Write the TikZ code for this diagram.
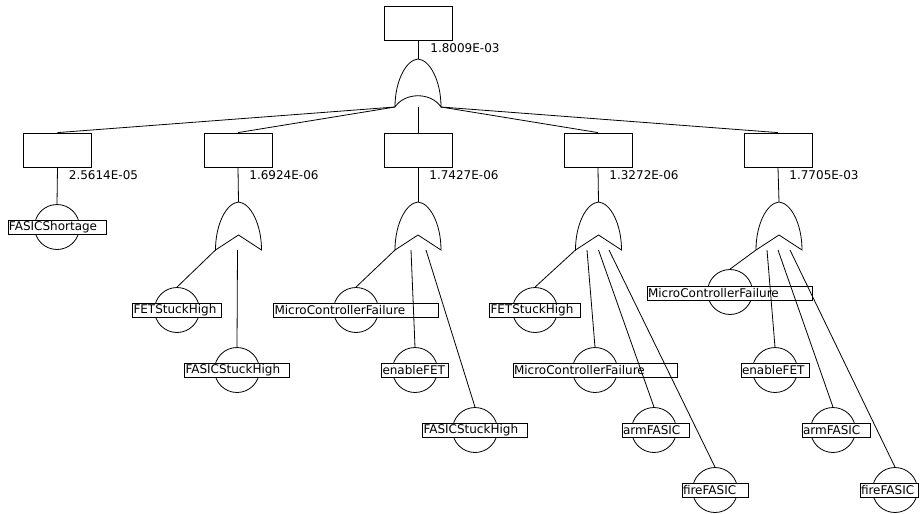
\documentclass[tikz,border=0pt]{standalone}
\usepackage{fontspec}
\setmainfont{DejaVu Sans}

\begin{document}
\begin{tikzpicture}[
x=1pt, y=-1pt, line width=0.8pt,
eventbox/.style={draw, minimum width=68pt, minimum height=34pt, inner sep=0pt},
prob/.style={anchor=north west, inner sep=0pt, font=\fontsize{12}{14}\selectfont},
basic/.style={circle, draw, minimum size=45pt, inner sep=0pt},
tag/.style={draw, fill=white, inner sep=1pt, minimum height=14pt, align=left, text width=#1, font=\fontsize{12}{14}\selectfont},
orgate/.pic={
  \draw (-23,48) .. controls (-23,22) and (-12,1) .. (0,0) .. controls (12,1) and (23,22) .. (23,48)
        .. controls (13,33) and (-13,33) .. (-23,48);
  \coordinate (-top) at (0,0);
  \coordinate (-sw) at (-23,48);
  \coordinate (-s) at (0,48);
  \coordinate (-se) at (23,48);
},
chevgate/.pic={
  \draw (-23,48) .. controls (-23,22) and (-12,1) .. (0,0) .. controls (12,1) and (23,22) .. (23,48)
        -- (0,33) -- cycle;
  \coordinate (-top) at (0,0);
  \coordinate (-sw) at (-23,48);
  \coordinate (-s) at (0,48);
  \coordinate (-se) at (23,48);
}
]
    \useasboundingbox (0,0) rectangle (921,514);

    % top event
    \node [eventbox] (t0) at (418,23) {};
    \node [prob] (p0) at ([xshift=12pt, yshift=-3pt]t0.south) {1.8009E-03};
    \pic (g0) at (418,59) {orgate};

    % intermediate events
    \node [eventbox] (t1) at (57.5,150) {};
    \node [eventbox] (t2) at (238,150) {};
    \node [eventbox] (t3) at (418,150) {};
    \node [eventbox] (t4) at (598,150) {};
    \node [eventbox] (t5) at (778,150) {};

    \node [prob] (p1) at ([xshift=11pt, yshift=-3pt]t1.south) {2.5614E-05};
    \node [prob] (p2) at ([xshift=11pt, yshift=-3pt]t2.south) {1.6924E-06};
    \node [prob] (p3) at ([xshift=11pt, yshift=-3pt]t3.south) {1.7427E-06};
    \node [prob] (p4) at ([xshift=11pt, yshift=-3pt]t4.south) {1.3272E-06};
    \node [prob] (p5) at ([xshift=11pt, yshift=-3pt]t5.south) {1.7705E-03};

    \pic (g2) at (238.5,202) {chevgate};
    \pic (g3) at (418,202) {chevgate};
    \pic (g4) at (598.5,202) {chevgate};
    \pic (g5) at (779,202) {chevgate};

    % basic events
    \node [basic] (e1) at (57,227) {};
    \node [tag=96pt] (l1) at (e1) {FASICShortage};

    \node [basic] (e21) at (177,310) {};
    \node [tag=87pt] (l21) at (e21) {FETStuckHigh};
    \node [basic] (e22) at (237,370) {};
    \node [tag=103pt] (l22) at (e22) {FASICStuckHigh};

    \node [basic] (e31) at (356,310) {};
    \node [tag=163pt] (l31) at (e31) {MicroControllerFailure};
    \node [basic] (e32) at (415,370) {};
    \node [tag=65pt] (l32) at (e32) {enableFET};
    \node [basic] (e33) at (475,430) {};
    \node [tag=103pt] (l33) at (e33) {FASICStuckHigh};

    \node [basic] (e41) at (535,310) {};
    \node [tag=89pt] (l41) at (e41) {FETStuckHigh};
    \node [basic] (e42) at (595,370) {};
    \node [tag=162pt] (l42) at (e42) {MicroControllerFailure};
    \node [basic] (e43) at (654,430) {};
    \node [tag=65pt] (l43) at (655.5,430) {armFASIC};
    \node [basic] (e44) at (715,490) {};
    \node [tag=64pt] (l44) at (e44) {fireFASIC};

    \node [basic] (e51) at (730,292) {};
    \node [tag=163pt] (l51) at (729.5,293) {MicroControllerFailure};
    \node [basic] (e52) at (775,370) {};
    \node [tag=66pt] (l52) at (e52) {enableFET};
    \node [basic] (e53) at (833,430) {};
    \node [tag=66pt] (l53) at (836,430) {armFASIC};
    \node [basic] (e54) at (895,490) {};
    \node [tag=56pt] (l54) at (889,490) {fireFASIC};

    % connectors
    \draw (t0.south) edge (g0-top);
    \draw (g0-sw) edge (t1.north);
    \draw (g0-sw) edge (t2.north);
    \draw (g0-s) edge (t3.north);
    \draw (g0-se) edge (t4.north);
    \draw (g0-se) edge (t5.north);

    \draw (t1.south) edge (e1.north);
    \draw (t2.south) edge (g2-top);
    \draw (t3.south) edge (g3-top);
    \draw (t4.south) edge (g4-top);
    \draw (t5.south) edge (g5-top);

    \draw (g2-sw) edge (e21.north);
    \draw ([xshift=-1pt]g2-s) edge (e22.north);

    \draw (g3-sw) edge (e31.north);
    \draw ([xshift=-7pt]g3-s) edge (e32.north);
    \draw ([xshift=8pt]g3-s) edge (e33.north);

    \draw (g4-sw) edge (e41.north);
    \draw ([xshift=-11.5pt]g4-s) edge (e42.north);
    \draw (g4-s) edge (e43.north);
    \draw ([xshift=10.5pt]g4-s) edge (e44.north);

    \draw (g5-sw) edge (e51.north);
    \draw ([xshift=-12pt]g5-s) edge (e52.north);
    \draw ([xshift=-1pt]g5-s) edge (e53.north);
    \draw ([xshift=11pt]g5-s) edge (e54.north);
\end{tikzpicture}
\end{document}
